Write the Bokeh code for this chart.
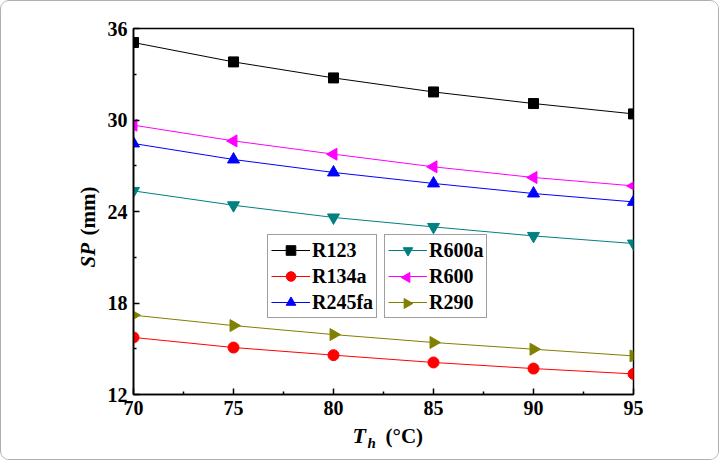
import math

from bokeh.embed import file_html
from bokeh.models import FixedTicker, Label, Legend, LegendItem, Range1d
from bokeh.plotting import figure
from bokeh.resources import INLINE

# Hot-source temperature (°C) and SP (mm) for each working fluid
temps = [70, 75, 80, 85, 90, 95]
r123 = [35.08, 33.81, 32.76, 31.84, 31.08, 30.40]
r134a = [15.74, 15.08, 14.58, 14.10, 13.70, 13.35]
r245fa = [28.46, 27.41, 26.56, 25.84, 25.18, 24.63]
r600a = [25.35, 24.41, 23.61, 22.99, 22.40, 21.90]
r600 = [29.66, 28.63, 27.76, 26.93, 26.23, 25.68]
r290 = [17.20, 16.52, 15.93, 15.41, 14.97, 14.53]

x_ticks = [70, 75, 80, 85, 90, 95]
x_minor = [72.5, 77.5, 82.5, 87.5, 92.5]
y_ticks = [12, 18, 24, 30, 36]
y_minor = [15, 21, 27, 33]

FONT = "Liberation Serif"
FRAME_W, FRAME_H = 500, 366
BORDER_L, BORDER_R, BORDER_T, BORDER_B = 132, 87, 27, 67

p = figure(
    width=BORDER_L + FRAME_W + BORDER_R, height=BORDER_T + FRAME_H + BORDER_B,
    x_range=(70, 95), y_range=(12, 36),
    output_backend="svg", toolbar_location=None,
    min_border_left=BORDER_L, min_border_right=BORDER_R,
    min_border_top=BORDER_T, min_border_bottom=BORDER_B,
    background_fill_color="white", border_fill_color="white",
)
p.styles = {"border": "1px solid #b0b0b0", "border-radius": "9px", "overflow": "hidden"}
# pixel ranges over the frame, used for the legend key markers
p.extra_x_ranges = {"px": Range1d(0, FRAME_W)}
p.extra_y_ranges = {"px": Range1d(0, FRAME_H)}
p.grid.visible = False
p.outline_line_color = "black"
p.outline_line_width = 1.5

for ax in (p.xaxis[0], p.yaxis[0]):
    ax.axis_line_width = 1.6
    ax.major_tick_line_width = 1.5
    ax.minor_tick_line_width = 1.5
    ax.major_tick_in = 6
    ax.major_tick_out = 0
    ax.minor_tick_in = 3
    ax.minor_tick_out = 0
    ax.major_label_text_font = FONT
    ax.major_label_text_font_style = "bold"
    ax.major_label_text_font_size = "20px"
    ax.major_label_text_color = "black"

p.xaxis[0].ticker = FixedTicker(ticks=x_ticks, minor_ticks=x_minor)
p.yaxis[0].ticker = FixedTicker(ticks=y_ticks, minor_ticks=y_minor)
p.xaxis[0].major_label_standoff = 6
p.yaxis[0].major_label_standoff = 6

series = [
    ("R123", r123, "black", "square", 0.0, 10),
    ("R134a", r134a, "#ff0000", "circle", 0.0, 11),
    ("R245fa", r245fa, "#0000ff", "triangle", 0.0, 12),
    ("R600a", r600a, "#008080", "inverted_triangle", 0.0, 12),
    ("R600", r600, "#ff00ff", "triangle", math.pi / 2, 12),
    ("R290", r290, "#808000", "triangle", -math.pi / 2, 12),
]

# legend geometry
PAD, GLYPH_W, ROW_H, GAP, STANDOFF = 3, 39, 24, 2, 2
LEG_Y = 76
LEG_X = [134, 251]
LEG_H = 2 * PAD + 3 * ROW_H + 2 * GAP

items = []
for k, (name, ys, color, marker, ang, size) in enumerate(series):
    ln = p.line(temps, ys, line_color=color, line_width=1)
    sc = p.scatter(temps, ys, marker=marker, angle=ang, size=size,
                   fill_color=color, line_color=color)
    if ang == 0.0:
        items.append(LegendItem(label=name, renderers=[ln, sc]))
    else:
        # rotated triangles: the legend key marker is drawn separately, turned
        items.append(LegendItem(label=name, renderers=[ln]))
        col, row = divmod(k, 3)
        kx = LEG_X[col] + PAD + GLYPH_W / 2
        ky = LEG_Y + LEG_H - PAD - row * (ROW_H + GAP) - ROW_H / 2
        p.scatter([kx], [ky], marker=marker, angle=ang, size=10,
                  fill_color=color, line_color=color,
                  x_range_name="px", y_range_name="px")


def make_legend(its, loc):
    return Legend(
        items=its, location=loc, orientation="vertical",
        label_text_font=FONT, label_text_font_style="bold",
        label_text_font_size="20px", label_text_color="black",
        glyph_width=GLYPH_W, glyph_height=ROW_H, label_height=ROW_H,
        label_standoff=STANDOFF, spacing=GAP, padding=PAD, margin=0,
        border_line_color="#404040", border_line_width=1.5,
        background_fill_alpha=0.0,
    )


p.add_layout(make_legend(items[:3], (LEG_X[0], LEG_Y)))
p.add_layout(make_legend(items[3:], (LEG_X[1], LEG_Y)))


# Axis titles built from pieces so that italics and subscript can differ.
# They sit in side panels so that they are not clipped to the data frame.
def title(text, xo, yo, size, style, side, angle=0.0, baseline="alphabetic"):
    p.add_layout(Label(
        x=70, y=12, x_offset=xo, y_offset=yo, text=text, angle=angle,
        text_font=FONT, text_font_style=style, text_font_size=size,
        text_color="black", text_align="left", text_baseline=baseline,
    ), side)


title("SP", -46, 127, "21px", "bold italic", "right", math.pi / 2, "middle")
title("(mm)", -46, 159, "21px", "bold", "right", math.pi / 2, "middle")
title("T", 219, -41, "22px", "bold italic", "left")
title("h", 234, -48, "15px", "bold italic", "left")
title("(°C)", 252, -41, "21px", "bold", "left")

open("out.html", "w").write(file_html(p, INLINE))
